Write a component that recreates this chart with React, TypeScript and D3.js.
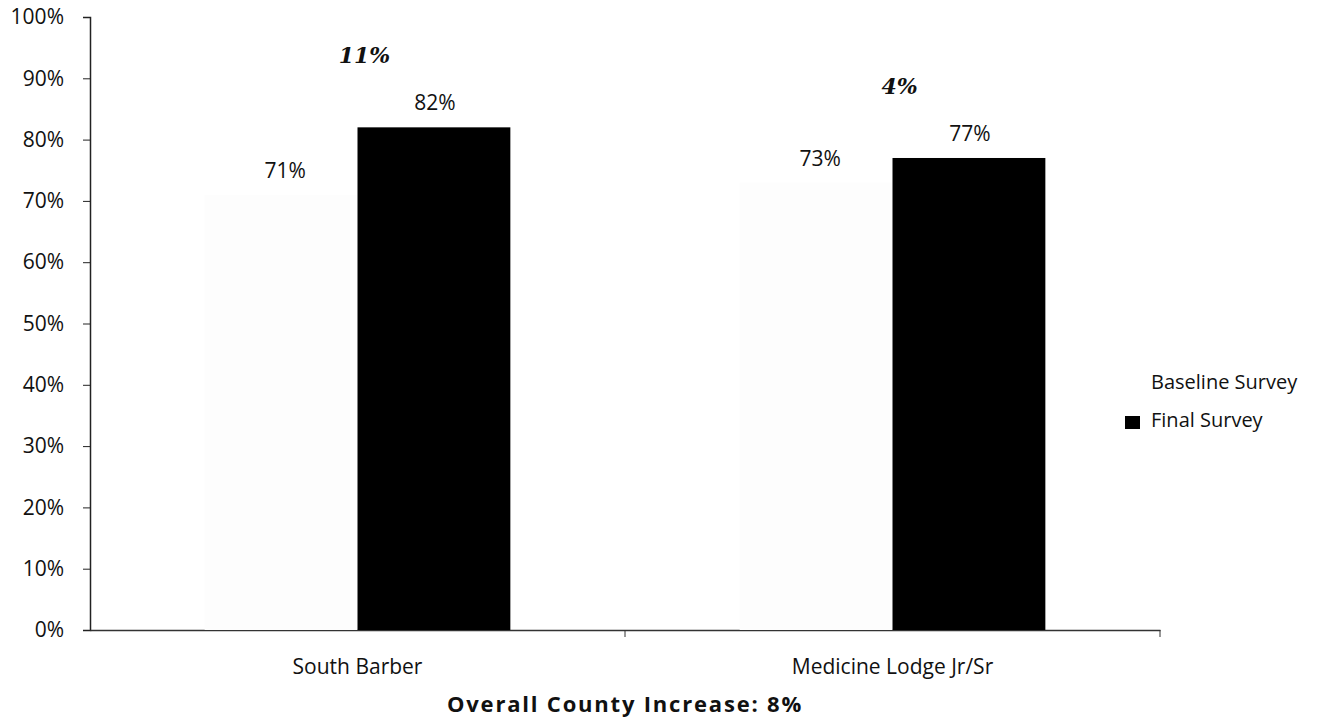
import React, { useEffect, useRef } from 'react';
import * as d3 from 'd3';

const schools = ['South Barber', 'Medicine Lodge Jr/Sr'];
const baseline = [71, 73];
const finalSurvey = [82, 77];
const increases = ['11%', '4%'];
const yTicks = [0, 10, 20, 30, 40, 50, 60, 70, 80, 90, 100];
const seriesNames = ['Baseline Survey', 'Final Survey'];
const overallLabel = 'Overall County Increase: 8%';

const App: React.FC = () => {
    const svgRef = useRef<SVGSVGElement | null>(null);

    useEffect(() => {
        const svg = d3.select(svgRef.current);
        const width = 1325;
        const height = 725;
        const margin = { top: 17, right: 165, bottom: 95, left: 90 };
        const font = '"Open Sans", "Noto Sans", sans-serif';

        svg.selectAll('*').remove();

        const x = d3
            .scaleBand()
            .domain(schools)
            .range([margin.left, width - margin.right]);

        const inner = d3
            .scaleBand()
            .domain(seriesNames)
            .range([0, x.bandwidth()])
            .paddingInner(0)
            .paddingOuter(0.75);

        const y = d3
            .scaleLinear()
            .domain([0, 100])
            .range([height - margin.bottom, margin.top]);

        // eje y
        const yAxis = svg
            .append('g')
            .attr('transform', `translate(${margin.left},0)`)
            .call(
                d3
                    .axisLeft(y)
                    .tickValues(yTicks)
                    .tickSize(7)
                    .tickPadding(19)
                    .tickFormat(d => `${d}%`)
            );
        yAxis.select('.domain').attr('stroke', '#222').attr('stroke-width', 1.5);
        yAxis.selectAll('line').attr('stroke', '#222');
        yAxis
            .selectAll('text')
            .attr('font-family', font)
            .attr('font-size', 21)
            .attr('fill', '#111');

        // eje x
        const xAxis = svg
            .append('g')
            .attr('transform', `translate(0,${y(0)})`)
            .call(d3.axisBottom(x).tickSize(0).tickPadding(29));
        xAxis.select('.domain').attr('stroke', '#333').attr('stroke-width', 1.5);
        xAxis
            .selectAll('text')
            .attr('font-family', font)
            .attr('font-size', 21)
            .attr('fill', '#111');

        // separadores de categoria
        svg
            .append('g')
            .selectAll('line')
            .data(schools)
            .join('line')
            .attr('x1', d => (x(d) as number) + x.bandwidth())
            .attr('x2', d => (x(d) as number) + x.bandwidth())
            .attr('y1', y(0))
            .attr('y2', y(0) + 7)
            .attr('stroke', '#333');

        const groups = svg
            .append('g')
            .selectAll('g')
            .data(schools)
            .join('g')
            .attr('transform', d => `translate(${x(d)},0)`);

        // barras baseline (casi blancas)
        groups
            .append('rect')
            .attr('x', inner('Baseline Survey') as number)
            .attr('y', (d, i) => y(baseline[i]))
            .attr('width', inner.bandwidth())
            .attr('height', (d, i) => y(0) - y(baseline[i]))
            .attr('fill', '#fdfdfd');

        // barras final
        groups
            .append('rect')
            .attr('x', inner('Final Survey') as number)
            .attr('y', (d, i) => y(finalSurvey[i]))
            .attr('width', inner.bandwidth())
            .attr('height', (d, i) => y(0) - y(finalSurvey[i]))
            .attr('fill', '#000');

        // etiquetas de valores
        groups
            .append('text')
            .attr('x', (inner('Baseline Survey') as number) + inner.bandwidth() / 2 + 4)
            .attr('y', (d, i) => y(baseline[i]) - 17)
            .attr('text-anchor', 'middle')
            .attr('font-family', font)
            .attr('font-size', 21)
            .attr('fill', '#111')
            .text((d, i) => `${baseline[i]}%`);

        groups
            .append('text')
            .attr('x', (inner('Final Survey') as number) + inner.bandwidth() / 2 + 1)
            .attr('y', (d, i) => y(finalSurvey[i]) - 17)
            .attr('text-anchor', 'middle')
            .attr('font-family', font)
            .attr('font-size', 21)
            .attr('fill', '#111')
            .text((d, i) => `${finalSurvey[i]}%`);

        // incremento
        groups
            .append('text')
            .attr('x', (inner('Final Survey') as number) + 7)
            .attr('y', (d, i) => y(finalSurvey[i]) - 64)
            .attr('text-anchor', 'middle')
            .attr('font-family', '"DejaVu Serif", serif')
            .attr('font-weight', 'bold')
            .attr('font-style', 'italic')
            .attr('font-size', 22)
            .attr('fill', '#111')
            .text((d, i) => increases[i]);

        // leyenda
        const legend = svg.append('g').attr('transform', `translate(1125,0)`);
        legend
            .append('text')
            .attr('x', 26)
            .attr('y', 389)
            .attr('font-family', font)
            .attr('font-size', 20)
            .attr('fill', '#111')
            .text(seriesNames[0]);
        legend
            .append('rect')
            .attr('x', 0)
            .attr('y', 416)
            .attr('width', 15)
            .attr('height', 13)
            .attr('fill', '#000');
        legend
            .append('text')
            .attr('x', 26)
            .attr('y', 427)
            .attr('font-family', font)
            .attr('font-size', 20)
            .attr('fill', '#111')
            .text(seriesNames[1]);

        // titulo inferior
        svg
            .append('text')
            .attr('x', (x(schools[0]) as number) + x.bandwidth())
            .attr('y', 712)
            .attr('text-anchor', 'middle')
            .attr('font-family', font)
            .attr('font-weight', 'bold')
            .attr('font-size', 22)
            .attr('letter-spacing', 1.8)
            .attr('fill', '#111')
            .text(overallLabel);
    }, []);

    return (
        <svg
            ref={svgRef}
            width={1325}
            height={725}
            style={{ position: 'absolute', left: 0, top: 0, background: '#fff' }}
        ></svg>
    );
};

export default App;
